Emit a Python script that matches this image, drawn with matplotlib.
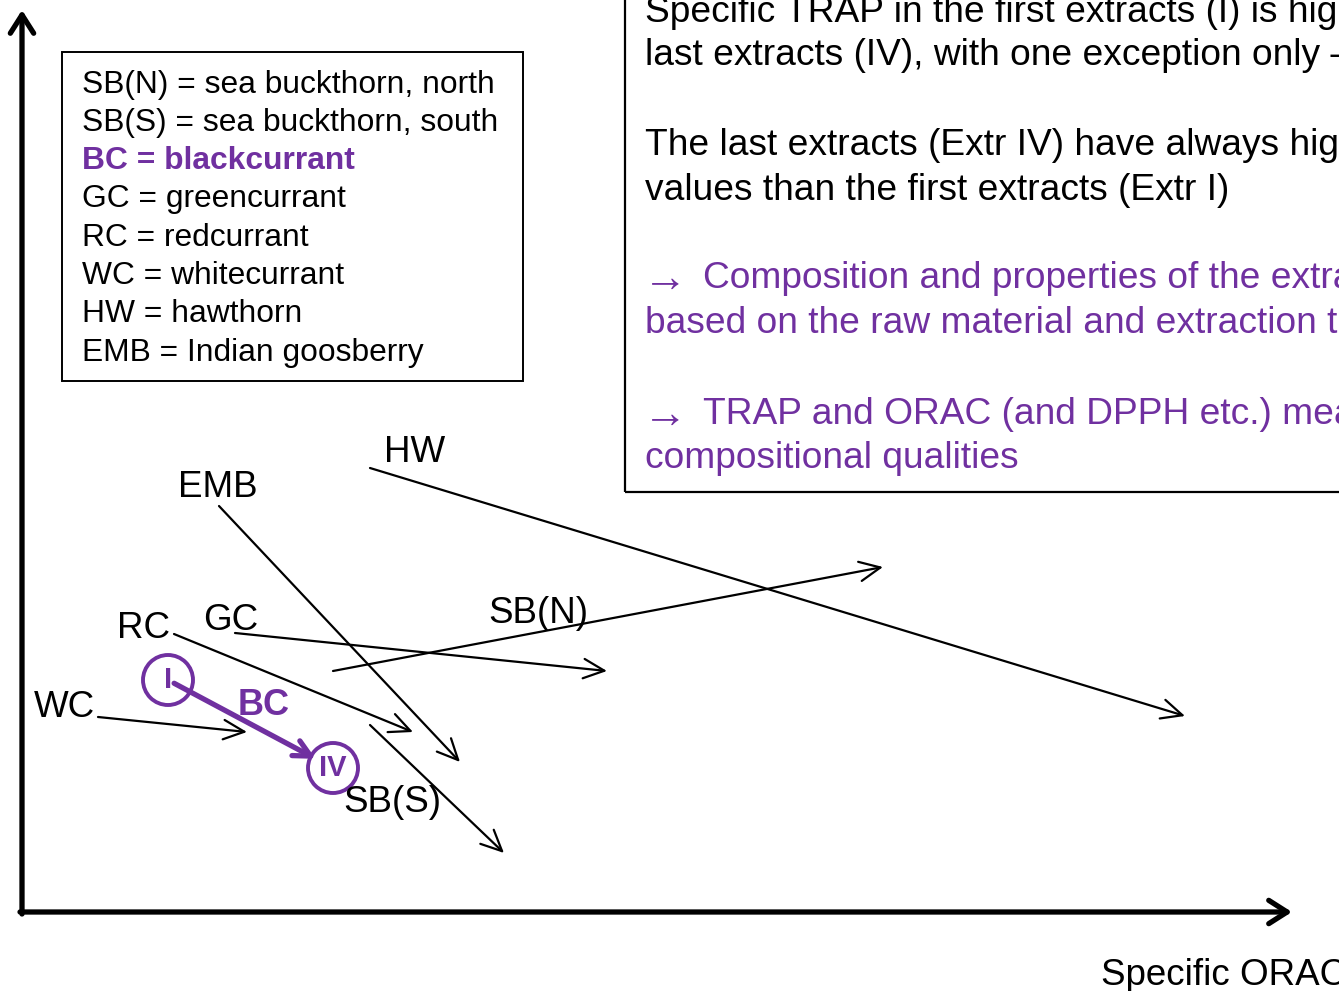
import matplotlib
matplotlib.use("Agg")
import matplotlib.pyplot as plt
from matplotlib.patches import FancyArrowPatch, Rectangle, Ellipse

plt.rcParams['font.family'] = ['Liberation Sans', 'DejaVu Sans']

PURPLE = '#7030A0'

# ---- data (Specific ORAC on x, Specific TRAP on y, arbitrary units) ----
berries = ['HW', 'EMB', 'SB(N)', 'GC', 'RC', 'WC', 'SB(S)', 'BC']
orac_I = [348, 197, 311, 213, 152, 76, 348, 146]    # first extract (I)
trap_I = [444, 406, 241, 279, 278, 195, 187, 232]
orac_IV = [1163, 438, 861, 585, 391, 225, 482, 311]  # last extract (IV)
trap_IV = [196, 150, 345, 241, 180, 180, 59, 144]

legend_lines = [
    'SB(N) = sea buckthorn, north',
    'SB(S) = sea buckthorn, south',
    'BC = blackcurrant',
    'GC = greencurrant',
    'RC = redcurrant',
    'WC = whitecurrant',
    'HW = hawthorn',
    'EMB = Indian goosberry',
]

# (text, colour, leading arrow?)
note_lines = [
    ('Specific TRAP in the first extracts (I) is higher than in the', 'black', False),
    ('last extracts (IV), with one exception only \u2013 SB(N)', 'black', False),
    ('The last extracts (Extr IV) have always higher ORAC', 'black', False),
    ('values than the first extracts (Extr I)', 'black', False),
    ('Composition and properties of the extracts vary', PURPLE, True),
    ('based on the raw material and extraction technique', PURPLE, False),
    ('TRAP and ORAC (and DPPH etc.) measure different', PURPLE, True),
    ('compositional qualities', PURPLE, False),
]

x_label = 'Specific ORAC'

# ---- layout ----
fig = plt.figure(figsize=(13.39, 9.91), dpi=100)
ax = fig.add_axes([0, 0, 1, 1])
ax.set_xlim(-22, 1317)
ax.set_ylim(-79, 912)
ax.axis('off')

# axes arrows
ax.add_patch(FancyArrowPatch((0, -2), (0, 902), arrowstyle='->,head_length=0.55,head_width=0.35',
                             mutation_scale=24, lw=3.8, color='black', shrinkA=0, shrinkB=0,
                             capstyle='round', joinstyle='round'))
ax.add_patch(FancyArrowPatch((-2, 0), (1270, 0), arrowstyle='->,head_length=0.55,head_width=0.35',
                             mutation_scale=24, lw=3.8, color='black', shrinkA=0, shrinkB=0,
                             capstyle='round', joinstyle='round'))

ax.text(1079, -73, x_label, fontsize=26.5, ha='left', va='baseline', clip_on=True)

# series arrows
label_pos = {
    'HW': (362, 450), 'EMB': (156, 415), 'SB(N)': (466, 289), 'GC': (181, 282),
    'RC': (95, 274), 'WC': (12, 195), 'SB(S)': (321, 100), 'BC': (216, 197),
}
for name, x0, y0, x1, y1 in zip(berries, orac_I, trap_I, orac_IV, trap_IV):
    if name == 'BC':
        continue
    ax.add_patch(FancyArrowPatch((x0, y0), (x1, y1),
                                 arrowstyle='->,head_length=0.75,head_width=0.35',
                                 mutation_scale=20, lw=1.6, color='black',
                                 shrinkA=0, shrinkB=0))
    lx, ly = label_pos[name]
    ax.text(lx, ly, name, fontsize=26.5, ha='left', va='baseline')

# BC highlighted
i = berries.index('BC')
bx0, by0, bx1, by1 = orac_I[i], trap_I[i], orac_IV[i], trap_IV[i]
ax.add_patch(FancyArrowPatch((bx0, by0), (bx1, by1),
                             arrowstyle='->,head_length=0.6,head_width=0.3',
                             mutation_scale=20, lw=3.8, color=PURPLE,
                             shrinkA=5, shrinkB=14))
for cx, cy, lab in [(bx0, by0, 'I'), (bx1, by1, 'IV')]:
    ax.add_patch(Ellipse((cx, cy), 50, 50, fill=False, ec=PURPLE, lw=2.8))
    ax.text(cx, cy, lab, fontsize=21, fontweight='bold', color=PURPLE,
            ha='center', va='center')
lx, ly = label_pos['BC']
ax.text(lx, ly, 'BC', fontsize=26, fontweight='bold', color=PURPLE, ha='left', va='baseline')

# legend box
ax.add_patch(Rectangle((40, 531), 461, 329, fill=False, ec='black', lw=1.4))
leg_y = [819, 781, 743, 705, 666, 628, 590, 551]
for txt, yy in zip(legend_lines, leg_y):
    bold = txt.startswith('BC')
    ax.text(60, yy, txt, fontsize=22.9, ha='left', va='baseline',
            color=PURPLE if bold else 'black', fontweight='bold' if bold else 'normal')

# notes box
ax.add_patch(Rectangle((603, 420), 1200, 1000, fill=False, ec='black', lw=1.6))
note_y = [890, 847, 757, 712, 624, 579, 488, 444]
for (txt, col, arrow), yy in zip(note_lines, note_y):
    if arrow:
        ax.text(621, yy - 3, '\u2192', fontsize=32, ha='left', va='baseline', color=col,
                family=['Liberation Serif', 'DejaVu Serif'])
        ax.text(681, yy, txt, fontsize=26.7, ha='left', va='baseline', color=col, clip_on=True)
    else:
        ax.text(623, yy, txt, fontsize=26.7, ha='left', va='baseline', color=col, clip_on=True)

fig.savefig('out.png', dpi=100)
